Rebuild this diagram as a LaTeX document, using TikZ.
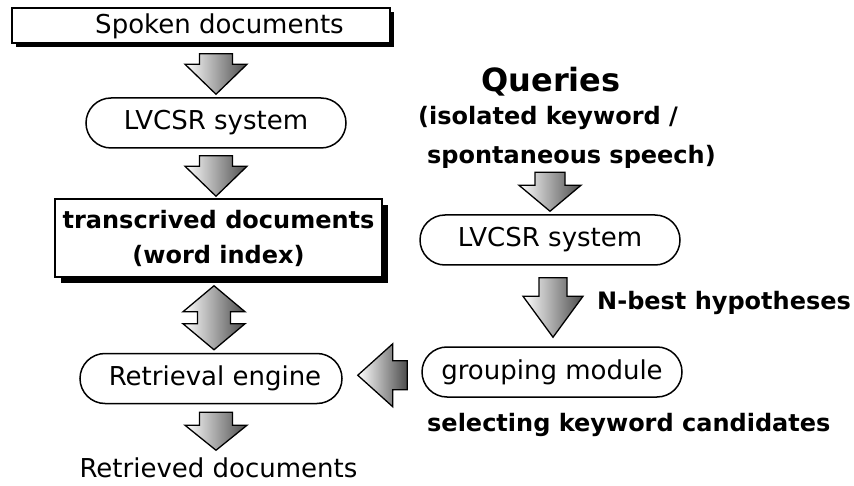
\documentclass[tikz,border=0pt]{standalone}
\usepackage{fontspec}
\setmainfont{DejaVu Sans}
\usetikzlibrary{calc,shadows}
\tikzset{
  x=1pt, y=-1pt,
  outl/.style={draw=black, line width=1.5pt},
  regtxt/.style={font=\fontsize{26}{31}\selectfont, inner sep=0pt},
  boldtxt/.style={font=\bfseries\fontsize{24}{33}\selectfont, inner sep=0pt},
  shbox/.style={outl, fill=white, inner sep=0pt,
    drop shadow={shadow xshift=#1, shadow yshift=-#1, fill=black, opacity=1}},
  pill/.style={outl, fill=white, rounded corners=25pt, minimum width=260pt,
    minimum height=50pt, inner sep=0pt, font=\fontsize{26}{31}\selectfont},
  blk/.style={draw=black, line width=1.3pt, line join=miter,
    left color=white, right color=black!70},
}
% down block arrow: #1 start, #2 tip, #3 head length, #4 shaft half width, #5 head half width
\newcommand\vblk[5]{%
  \path[blk] let \p1=#1, \p2=#2 in
    (\x2-#4,\y1) -- (\x2+#4,\y1) -- (\x2+#4,\y2+#3) -- (\x2+#5,\y2+#3) --
    (\x2,\y2) -- (\x2-#5,\y2+#3) -- (\x2-#4,\y2+#3) -- cycle;}
% double vertical block arrow: #1 top tip, #2 bottom tip
\newcommand\dblk[5]{%
  \path[blk] let \p1=#1, \p2=#2 in
    (\x1,\y1) -- (\x1+#5,\y1-#3) -- (\x1+#4,\y1-#3) -- (\x1+#4,\y2+#3) --
    (\x1+#5,\y2+#3) -- (\x1,\y2) -- (\x1-#5,\y2+#3) -- (\x1-#4,\y2+#3) --
    (\x1-#4,\y1-#3) -- (\x1-#5,\y1-#3) -- cycle;}
% left block arrow: #1 tail, #2 tip
\newcommand\hblk[5]{%
  \path[blk] let \p1=#1, \p2=#2, \n1={(\y1+\y2)/2} in
    (\x1,\n1+#4) -- (\x2+#3,\n1+#4) -- (\x2+#3,\n1+#5) -- (\x2,\n1) --
    (\x2+#3,\n1-#5) -- (\x2+#3,\n1-#4) -- (\x1,\n1-#4) -- cycle;}
\begin{document}
\begin{tikzpicture}
\useasboundingbox (0,0) rectangle (854,486);
% left column
\node[shbox=4pt, minimum width=378pt, minimum height=35pt] (spoken) at (201,25.5) {};
\node[regtxt] (spokenlbl) at (219.5,26) {Spoken documents};
\node[pill] (lv1) at (216,123) {LVCSR system};
\node[shbox=6pt, minimum width=327pt, minimum height=78pt, align=center,
      font=\bfseries\fontsize{24}{35}\selectfont] (trans) at (218.5,238)
      {transcrived documents\\(word index)};
\node[pill, minimum width=262pt] (retr) at (211,378.5) {\hspace*{8pt}Retrieval engine};
\node[regtxt] (retdocs) at (218.5,468) {Retrieved documents};
% right column
\node[font=\bfseries\fontsize{32}{38}\selectfont, inner sep=0pt] (queries) at (551,82) {Queries};
\node[boldtxt, anchor=west] (iso) at (418,118) {(isolated keyword /};
\node[boldtxt, anchor=west] (spont) at (427,157) {spontaneous speech)};
\node[pill] (lv2) at (550,240) {LVCSR system};
\node[boldtxt, anchor=west] (nbest) at (597,303) {N-best hypotheses};
\node[pill] (grp) at (552,372) {grouping module};
\node[boldtxt, anchor=west] (sel) at (427,425) {selecting keyword candidates};
% block arrows
\vblk{($(spoken.south)+(0,10)$)}{($(lv1.north)+(0,-3)$)}{30pt}{16.5pt}{31pt}
\vblk{($(lv1.south)+(0,7)$)}{($(trans.north)+(-2.5,-2)$)}{30pt}{16.5pt}{31pt}
\dblk{($(trans.south)+(-4.5,8)$)}{($(retr.north)+(0,-3)$)}{26pt}{16.5pt}{31pt}
\vblk{($(retr.south)+(5,8)$)}{($(retr.south)+(5,46)$)}{25pt}{16.5pt}{31pt}
\vblk{($(lv2.north)+(0,-42)$)}{($(lv2.north)+(0,-3)$)}{26pt}{15pt}{31pt}
\vblk{($(lv2.south)+(0,12)$)}{($(grp.north)+(1,-9)$)}{41pt}{14pt}{30pt}
\hblk{($(grp.west)+(-14,0)$)}{($(retr.east)+(15,0)$)}{35pt}{14.5pt}{31.5pt}
\end{tikzpicture}
\end{document}
